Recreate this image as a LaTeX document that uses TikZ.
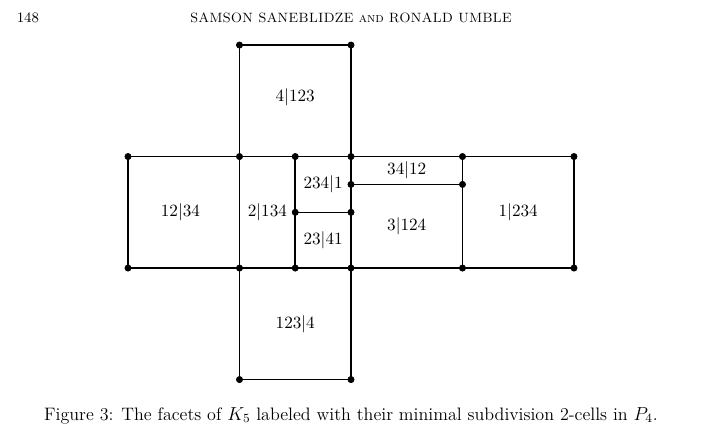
\documentclass[tikz,border=0pt]{standalone}
\usepackage[dvipsnames,svgnames]{xcolor}
\usepackage{tkz-euclide}

\begin{document}
\begin{tikzpicture}[scale=2.5,every node/.style={font=\fontsize{11}{13}\selectfont}]
    \useasboundingbox (-1.148,-1.516) rectangle (5.157,2.404);
    \tkzDefPoints{1/2/bt,2/2/dt,0/1/au,1/1/bu,1.5/1/cu,2/1/du,3/1/eu,4/1/fu}
    \tkzDefPoints{2/.75/dm,3/.75/em,1.5/.5/ch,2/.5/dh}
    \tkzDefPoints{0/0/al,1/0/bl,1.5/0/cl,2/0/dl,3/0/el,4/0/fl,1/-1/bb,2/-1/db}
    % facets
    \tkzDrawSegments[line width=1pt](au,fu al,fl bt,dt bb,db au,al fu,fl eu,el)
    \tkzDrawSegments[line width=1pt](bb,bt db,dt cu,cl dm,em ch,dh)
    \tkzDrawPoints[size=4,color=black,fill=black](bt,dt,au,bu,cu,du,eu,fu,dm,em,ch,dh)
    \tkzDrawPoints[size=4,color=black,fill=black](al,bl,cl,dl,el,fl,bb,db)
    % labels
    \node (c4) at (1.5,1.53) {$4|123$};
    \node (c12) at (.47,.5) {$12|34$};
    \node (c2) at (1.25,.5) {$2|134$};
    \node (c234) at (1.75,.75) {$234|1$};
    \node (c23) at (1.75,.25) {$23|41$};
    \node (c34) at (2.5,.875) {$34|12$};
    \node (c3) at (2.5,.375) {$3|124$};
    \node (c1) at (3.5,.5) {$1|234$};
    \node (c123) at (1.5,-.5) {$123|4$};
    % page
    \node[anchor=base west,font=\fontsize{9.2}{11}\selectfont,inner sep=0] (page) at (-1.0,2.206) {148};
    \node[anchor=base,font=\fontsize{8.6}{10}\selectfont\scshape,inner sep=0] (head) at (2,2.206) {SAMSON SANEBLIDZE and RONALD UMBLE};
    \node[anchor=base,font=\fontsize{11.5}{14}\selectfont,inner sep=0] (cap) at (2,-1.363) {Figure 3: The facets of $K_5$ labeled with their minimal subdivision 2-cells in $P_4$.};
  \end{tikzpicture}
\end{document}
